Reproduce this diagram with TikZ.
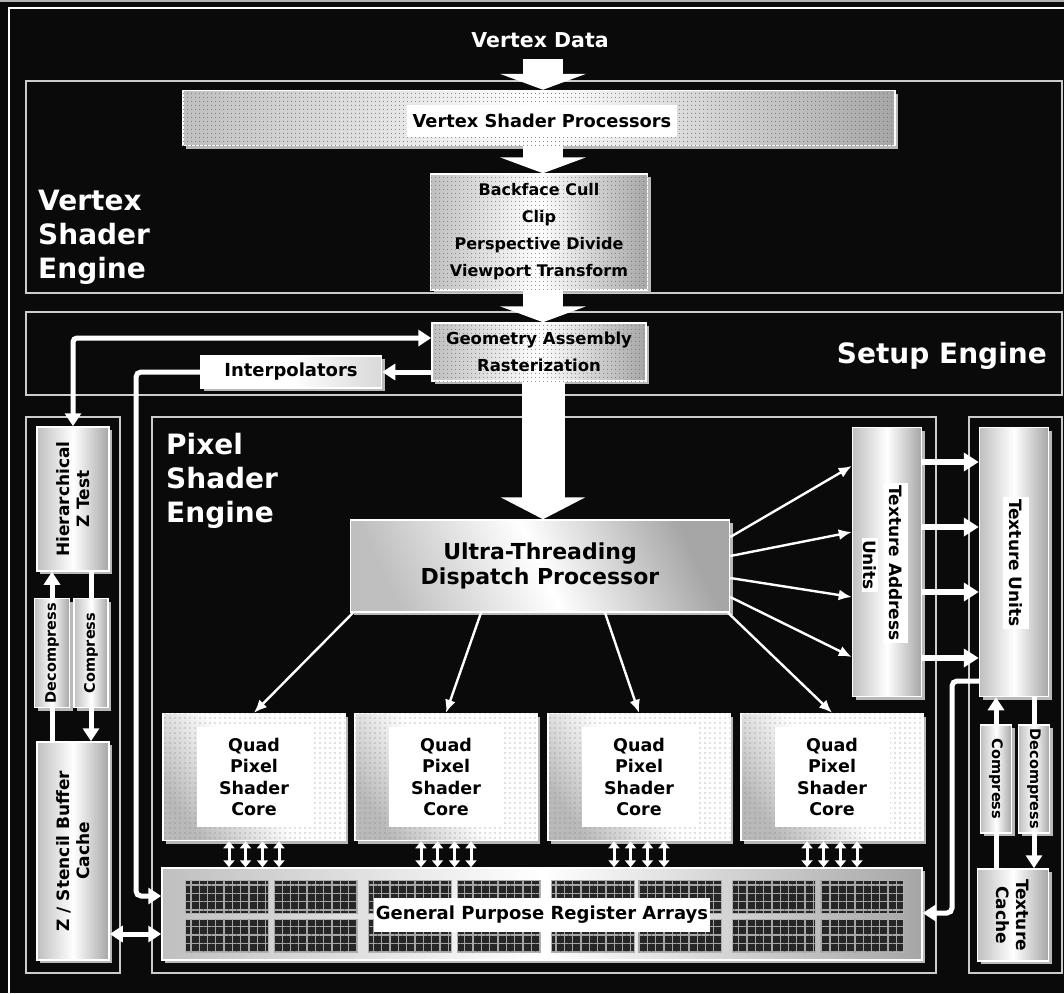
\documentclass[tikz,border=0pt]{standalone}
\usepackage{fontspec}
\setmainfont{DejaVu Sans}
\usetikzlibrary{arrows.meta, patterns.meta, shadows, calc}

\begin{document}
\begin{tikzpicture}[x=1pt, y=-1pt,
    frame/.style={draw=white!80!black, line width=1.6pt},
    unit/.style={rectangle, inner sep=0pt, draw=white, line width=1.5pt, left color=gray!50, right color=gray!70, middle color=white, drop shadow={shadow xshift=3pt, shadow yshift=-3pt, fill=gray!55, opacity=1}},
    dotunit/.style={unit, postaction={pattern={Dots[distance=4pt, radius=0.6pt]}, pattern color=black!55}},
    title/.style={text=white, align=left, inner sep=0pt, font=\fontsize{28}{34}\selectfont\bfseries},
    lbl/.style={text=black, align=center, inner sep=2pt, font=\fontsize{17}{20}\selectfont\bfseries},
    vlbl/.style={lbl, rotate=90},
    hlbl/.style={lbl, rotate=-90},
    bigarrow/.style={draw=white, line width=40pt, -{Triangle[width=86pt, length=16pt]}},
    link/.style={draw=white, line width=5pt, -{Triangle[width=16pt, length=13pt]}},
    dlink/.style={link, {Triangle[width=16pt, length=13pt]}-{Triangle[width=16pt, length=13pt]}},
    plain/.style={draw=white, line width=5pt},
    feed/.style={draw=white, line width=2.4pt, -{Latex[width=11pt, length=13pt]}},
    bus/.style={draw=white, line width=3pt, {Triangle[width=11pt, length=7pt]}-{Triangle[width=11pt, length=7pt]}}]

    \useasboundingbox (0,0) rectangle (1064,993);
    \fill[black!96] (0,0) rectangle (1064,993);
    \fill[gray!60] (0,0) rectangle (1064,2);
    \draw[white, line width=1.6pt] (1064,8) -- (9,8) -- (9,993);

    % engine frames
    \draw[frame] (26,81) rectangle (1062,293);
    \draw[frame] (26,312) rectangle (1062,395);
    \draw[frame] (26,417) rectangle (120,973);
    \draw[frame] (152,417) rectangle (936,973);
    \draw[frame] (969,417) rectangle (1062,973);

    % Vertex Shader Engine
    \node[text=white, font=\fontsize{20.5}{24}\selectfont\bfseries] (vd) at (540,40) {Vertex Data};
    \coordinate (vdin) at (543,59);
    \node[dotunit, minimum width=712pt, minimum height=55pt] (vsp) at (539,118) {};
    \node[lbl, fill=white, minimum width=270pt, minimum height=32pt, font=\fontsize{17.8}{20}\selectfont\bfseries] (vspt) at (542,121) {Vertex Shader Processors};
    \node[dotunit, minimum width=217pt, minimum height=116pt, align=center, font=\fontsize{16}{27}\selectfont\bfseries] (cull) at (539,232) {Backface Cull\\Clip\\Perspective Divide\\Viewport Transform};
    \node[title, anchor=west] (vse) at (38,237) {Vertex\\Shader\\Engine};

    % Setup Engine
    \node[dotunit, minimum width=214pt, minimum height=58pt, align=center, font=\fontsize{16.5}{27}\selectfont\bfseries] (geom) at (539,352) {Geometry Assembly\\Rasterization};
    \node[unit, left color=white, right color=white!85!black, middle color=white, minimum width=181pt, minimum height=32pt, lbl, font=\fontsize{18}{22}\selectfont\bfseries] (interp) at (291,372) {Interpolators};
    \node[title, anchor=east] (se) at (1047,356) {Setup Engine};

    % Pixel Shader Engine
    \node[unit, shading angle=115, minimum width=379pt, minimum height=92pt, align=center, font=\fontsize{22}{25}\selectfont\bfseries] (ut) at (540,566) {Ultra-Threading\\Dispatch Processor};
    \node[title, anchor=west] (pse) at (166,481) {Pixel\\Shader\\Engine};
    \foreach \i/\cx in {1/254, 2/446, 3/639, 4/832} {
        \node[unit, left color=gray!55, right color=white, middle color=white, shading angle=125, minimum width=182pt, minimum height=127pt, postaction={pattern={Dots[distance=5pt, radius=0.55pt]}, pattern color=black!50}] (core\i) at (\cx,777) {};
        \node[lbl, fill=white, minimum width=115pt, minimum height=100pt, font=\fontsize{17.5}{21.5}\selectfont\bfseries] (corelbl\i) at (\cx,777) {Quad\\Pixel\\Shader\\Core};
    }
    \node[unit, minimum width=760pt, minimum height=92pt] (gpr) at (542,914) {};
    \foreach \gx in {185,274,368,457,551,638,732,820}
        \foreach \gy in {880,919}
            \path[fill=black!85, draw=gray!60, postaction={pattern={Hatch[distance=8.3pt, line width=1.3pt]}, pattern color=gray!70}] (\gx,\gy) rectangle ++(83,33);
    \node[lbl, fill=white, minimum width=336pt, minimum height=34pt, font=\fontsize{18}{22}\selectfont\bfseries] (gprt) at (542,915) {General Purpose Register Arrays};

    % Z units
    \node[unit, minimum width=72pt, minimum height=144pt] (hz) at (73,499) {};
    \node[vlbl] (hzt) at (hz) {Hierarchical\\Z Test};
    \node[unit, minimum width=35pt, minimum height=109pt] (zdec) at (52,653) {};
    \node[vlbl, font=\fontsize{14.5}{17}\selectfont\bfseries] (zdect) at (zdec) {Decompress};
    \node[unit, minimum width=34pt, minimum height=109pt] (zcmp) at (91,653) {};
    \node[vlbl, font=\fontsize{14.5}{17}\selectfont\bfseries] (zcmpt) at (zcmp) {Compress};
    \node[unit, minimum width=72pt, minimum height=218pt] (zc) at (73,851) {};
    \node[vlbl] (zct) at (zc) {Z / Stencil Buffer\\Cache};

    % texture units
    \node[unit, minimum width=69pt, minimum height=269pt] (ta) at (887,562) {};
    \node[hlbl, fill=white, inner ysep=5pt] (tat1) at (896,563) {Texture Address};
    \node[hlbl, fill=white, inner ysep=1pt] (tat2) at (870,565) {Units};
    \node[unit, minimum width=69pt, minimum height=269pt] (tu) at (1014,562) {};
    \node[hlbl, fill=white, inner ysep=6pt] (tut) at (1016,563) {Texture Units};
    \node[unit, minimum width=31pt, minimum height=108pt] (tcmp) at (996,779) {};
    \node[hlbl, font=\fontsize{14.5}{17}\selectfont\bfseries] (tcmpt) at (tcmp) {Compress};
    \node[unit, minimum width=31pt, minimum height=108pt] (tdec) at (1034,779) {};
    \node[hlbl, font=\fontsize{14.5}{17}\selectfont\bfseries] (tdect) at (tdec) {Decompress};
    \node[unit, minimum width=71pt, minimum height=92pt] (tc) at (1013,915) {};
    \node[hlbl] (tct) at (tc) {Texture\\Cache};

    % big data path
    \draw[bigarrow] (vdin) -- (vdin |- vsp.north);
    \draw[bigarrow] ([xshift=4pt]vsp.south) -- ([xshift=4pt]cull.north);
    \draw[bigarrow] ([xshift=4pt]cull.south) -- ([xshift=4pt]geom.north);
    \draw[bigarrow, line width=43pt, -{Triangle[width=84pt, length=22pt]}] ([xshift=4pt]geom.south) -- ([xshift=4pt]geom.south |- ut.north);

    % connectors
    \coordinate (ibend) at (136,600);
    \coordinate (tbend) at (952,800);
    \draw[dlink, rounded corners=4pt] ([yshift=14pt]geom.west) -| (hz.north);
    \draw[link] (geom.west |- interp.east) -- (interp.east);
    \draw[link, rounded corners=5pt] (interp.west) -| (ibend) |- ([yshift=18pt]gpr.west);
    \draw[dlink] ([yshift=-83pt]zc.east) -- ([yshift=-20pt]gpr.west);
    \draw[link] (zdec.north) -- (zdec.north |- hz.south);
    \draw[plain] (zdec.south) -- (zdec.south |- zc.north);
    \draw[plain] (zcmp.north |- hz.south) -- (zcmp.north);
    \draw[link] (zcmp.south) -- (zcmp.south |- zc.north);

    \foreach \a/\b in {29/96, 10/30, -12/-35, -31/-95}
        \draw[feed] ([yshift=\a pt]ut.east) -- ([yshift=\b pt]ta.west);
    \foreach \i/\dx in {1/-187, 2/-59, 3/65, 4/188}
        \draw[feed] ([xshift=\dx pt]ut.south) -- (core\i.north);
    \foreach \i in {1,...,4}
        \foreach \dx in {-25,-8.5,8.5,25}
            \draw[bus] ($(core\i.south)+(\dx,0)$) -- ($(core\i.south |- gpr.north)+(\dx,0)$);

    \foreach \dy in {100,35,-30,-96}
        \draw[link, line width=6pt, -{Triangle[width=18pt, length=15pt]}] ([yshift=\dy pt]ta.east) -- ([yshift=\dy pt]tu.west);
    \draw[link, rounded corners=5pt] ([yshift=-119pt]tu.west) -| (tbend) |- ([yshift=1pt]gpr.east);
    \draw[link] (tcmp.north) -- (tcmp.north |- tu.south);
    \draw[plain] (tdec.north |- tu.south) -- (tdec.north);
    \draw[link] (tdec.south) -- (tdec.south |- tc.north);
    \draw[plain] (tcmp.south |- tc.north) -- (tcmp.south);
\end{tikzpicture}
\end{document}
